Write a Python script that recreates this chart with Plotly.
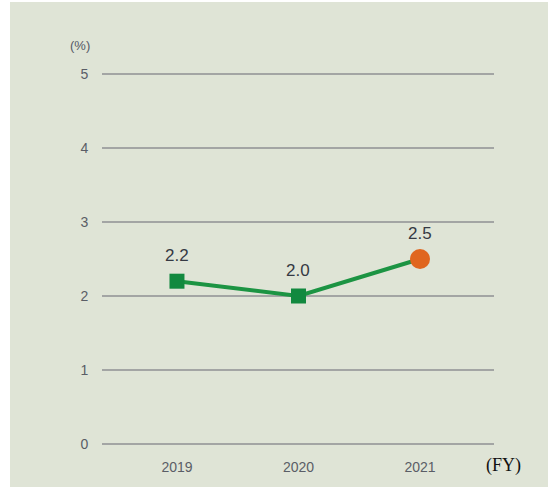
import plotly.graph_objects as go

years = ["2019", "2020", "2021"]
values = [2.2, 2.0, 2.5]
labels = ["2.2", "2.0", "2.5"]
marker_symbols = ["square", "square", "circle"]
marker_colors = ["#12893f", "#12893f", "#e0661f"]
marker_sizes = [15, 15, 20]
y_ticks = [0, 1, 2, 3, 4, 5]

BG = "#dfe4d6"
GRID = "#a3a5a4"
NARROW = "Liberation Sans Narrow, Arial Narrow, Liberation Sans, Arial"

fig = go.Figure()
fig.add_trace(go.Scatter(
    x=years, y=values,
    mode="lines",
    line=dict(color="#1c9443", width=4),
    hoverinfo="skip", showlegend=False,
))
fig.add_trace(go.Scatter(
    x=years, y=values,
    mode="markers",
    marker=dict(symbol=marker_symbols, color=marker_colors, size=marker_sizes,
                opacity=1, line=dict(width=0)),
    showlegend=False,
))

for i, (y, t) in enumerate(zip(values, labels)):
    fig.add_annotation(x=i, y=y, text=t, showarrow=False, yshift=26,
                       font=dict(family=NARROW, size=17, color="#353943"))

# plot area: x 102..494, y 72..446 (pixels)
def px(x):
    return (x - 102) / 392

def py(y):
    return (446 - y) / 374

fig.add_annotation(xref="paper", yref="paper", x=px(80), y=py(46),
                   xanchor="center", yanchor="middle",
                   text="(%)", showarrow=False,
                   font=dict(family=NARROW, size=13, color="#555a66"))
fig.add_annotation(xref="paper", yref="paper", x=px(503), y=py(465),
                   xanchor="center", yanchor="middle",
                   text="(FY)", showarrow=False,
                   font=dict(family="Liberation Serif, Times New Roman, serif", size=18, color="#111111"))

fig.add_shape(type="rect", xref="paper", yref="paper",
              x0=px(10), x1=1.3, y0=-0.3, y1=py(2),
              fillcolor=BG, line=dict(width=0), layer="below")

fig.update_layout(
    width=548, height=487,
    margin=dict(l=102, r=54, t=72, b=41, pad=0),
    paper_bgcolor="white",
    plot_bgcolor="rgba(0,0,0,0)",
    xaxis=dict(type="category", range=[-0.617, 2.609], showgrid=False, zeroline=False,
               showline=False, ticks="outside", ticklen=8, tickcolor="rgba(0,0,0,0)",
               tickfont=dict(family=NARROW, size=14, color="#5a5d66")),
    yaxis=dict(range=[-0.027, 5.027], tickvals=y_ticks, showgrid=True, gridcolor=GRID, gridwidth=1.5,
               zeroline=False, showline=False, ticks="outside", ticklen=10,
               tickcolor="rgba(0,0,0,0)",
               tickfont=dict(family=NARROW, size=14, color="#5a5d66")),
)

fig.write_html("out.html", config={"displayModeBar": False},
               post_script="document.body.style.margin='0';")
